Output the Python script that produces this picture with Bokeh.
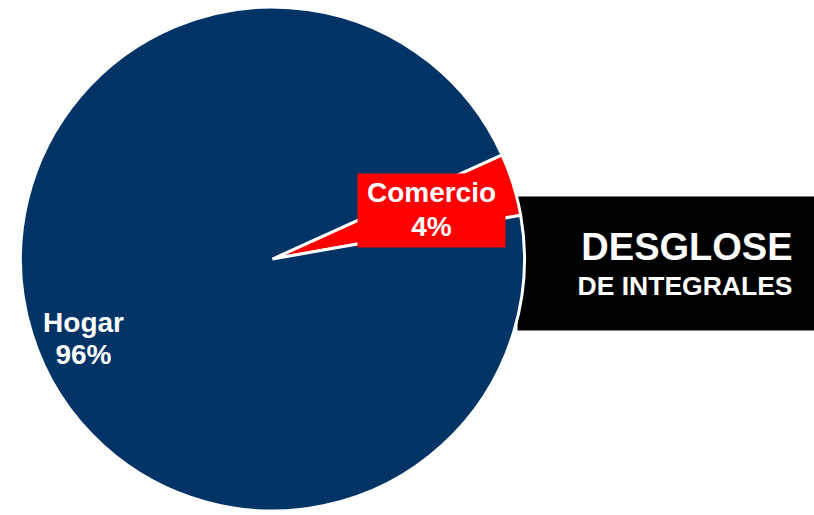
import math
from bokeh.plotting import figure
from bokeh.models import Range1d
from bokeh.core.properties import value
from bokeh.embed import file_html
from bokeh.resources import INLINE

# ---- data ----
categories = ["Comercio", "Hogar"]
values = [4, 96]
colors = ["#FF0000", "#003366"]
pct_labels = ["4%", "96%"]
title_line1 = "DESGLOSE"
title_line2 = "DE INTEGRALES"

# ---- layout (screen pixels) ----
W, H = 814, 515
OX, OY = 0, 0
CX, CY = 272, 258.5        # pie centre in picture
R = 252
START_DEG = 10.0
BASE_SHIFT = 0.39          # empirical baseline correction (em)

def dx(sx):
    return sx - CX

def dy(sy, fs=0.0):
    return CY - (sy - BASE_SHIFT * fs)

p = figure(width=W, height=H, output_backend="svg", toolbar_location=None,
           x_axis_type=None, y_axis_type=None,
           x_range=Range1d(dx(OX), dx(OX + W)), y_range=Range1d(dy(OY + H), dy(OY)),
           min_border=0, outline_line_color=None, background_fill_color="white",
           border_fill_color="white")
p.grid.visible = False

# black title box (behind pie)
p.quad(left=[dx(517)], right=[dx(830)], top=[dy(196)], bottom=[dy(330)],
       fill_color="black", line_color=None)

# pie wedges
total = float(sum(values))
starts, ends = [], []
a = math.radians(START_DEG)
for v in values:
    starts.append(a)
    a += 2 * math.pi * v / total
    ends.append(a)

p.wedge(x=0, y=0, radius=R, start_angle=starts, end_angle=ends,
        fill_color=colors, line_color="white", line_width=3,
        direction="anticlock")

# Comercio label box
p.quad(left=[dx(357)], right=[dx(505)], top=[dy(173)], bottom=[dy(247)],
       fill_color="#FF0000", line_color=None)

font = value("Liberation Sans")
LF = 28
p.text(x=[dx(431), dx(431)], y=[dy(203, LF), dy(237, LF)],
       text=[categories[0], pct_labels[0]],
       text_font=font, text_font_style="bold", text_font_size=f"{LF}px",
       text_color="white", text_align="center", text_baseline="alphabetic")

p.text(x=[dx(83), dx(83)], y=[dy(333, LF), dy(365, LF)],
       text=[categories[1], pct_labels[1]],
       text_font=font, text_font_style="bold", text_font_size=f"{LF}px",
       text_color="white", text_align="center", text_baseline="alphabetic")

# title in black box
T1, T2 = 38, 26.5
p.text(x=[dx(792)], y=[dy(261, T1)], text=[title_line1],
       text_font=font, text_font_style="bold", text_font_size=f"{T1}px",
       text_color="white", text_align="right", text_baseline="alphabetic")
p.text(x=[dx(792)], y=[dy(296, T2)], text=[title_line2],
       text_font=font, text_font_style="bold", text_font_size=f"{T2}px",
       text_color="white", text_align="right", text_baseline="alphabetic")

open("out.html", "w").write(file_html(p, INLINE))
